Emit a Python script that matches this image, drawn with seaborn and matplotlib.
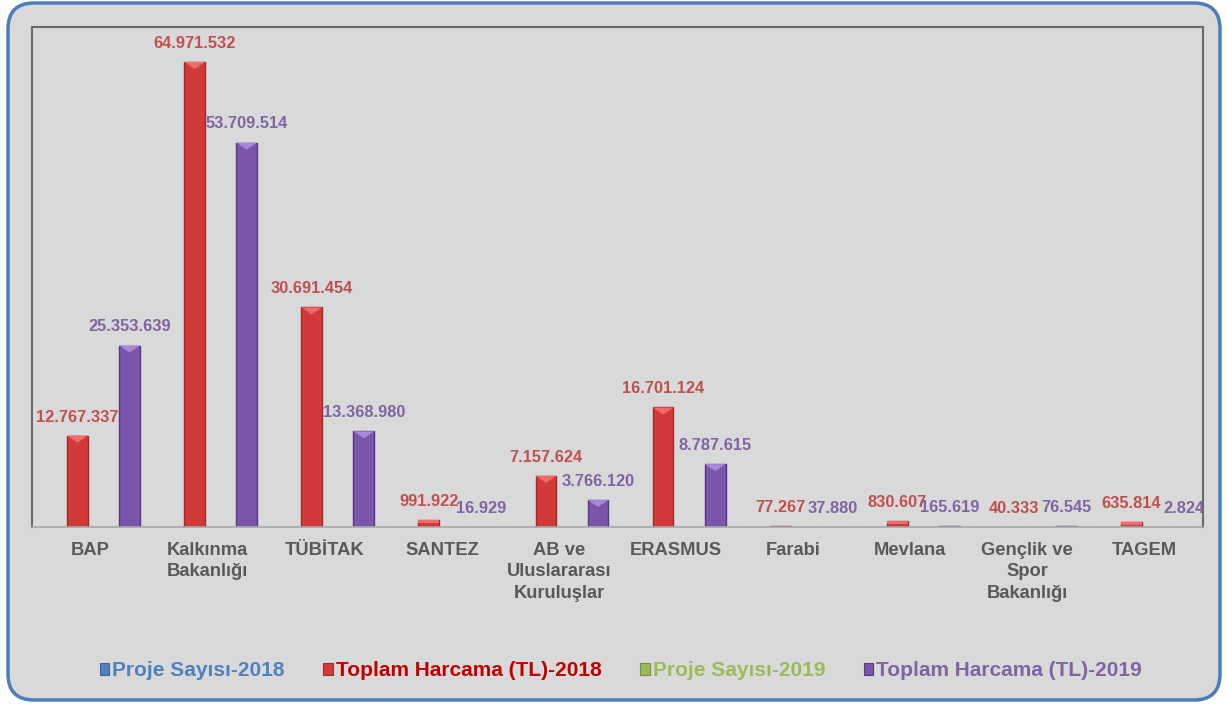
import matplotlib
matplotlib.use("Agg")
import matplotlib.pyplot as plt
import seaborn as sns
import pandas as pd
import numpy as np
from matplotlib.patches import FancyBboxPatch, Patch, Polygon
from matplotlib.transforms import IdentityTransform

categories = ["BAP", "Kalkınma\nBakanlığı", "TÜBİTAK", "SANTEZ", "AB ve\nUluslararası\nKuruluşlar",
              "ERASMUS", "Farabi", "Mevlana", "Gençlik ve\nSpor\nBakanlığı", "TAGEM"]
series_names = ["Proje Sayısı-2018", "Toplam Harcama (TL)-2018", "Proje Sayısı-2019", "Toplam Harcama (TL)-2019"]
# project counts are too small to be visible at this scale (read as ~0)
proje_2018 = [0, 0, 0, 0, 0, 0, 0, 0, 0, 0]
harcama_2018 = [12767337, 64971532, 30691454, 991922, 7157624, 16701124, 77267, 830607, 40333, 635814]
proje_2019 = [0, 0, 0, 0, 0, 0, 0, 0, 0, 0]
harcama_2019 = [25353639, 53709514, 13368980, 16929, 3766120, 8787615, 37880, 165619, 76545, 2824]

bar_colors = ["#4F81BD", "#D23A39", "#9BBB59", "#7A55AB"]
edge_colors = ["#3A6394", "#9E2A2A", "#76903F", "#553A80"]
top_colors = ["#7EA6D8", "#F26B6B", "#C0DA88", "#A987DA"]
text_colors = ["#4F81BD", "#C00000", "#9BBB59", "#8064A2"]
label_colors = {1: "#C0504D", 3: "#8064A2"}

rows = []
for name, vals in zip(series_names, [proje_2018, harcama_2018, proje_2019, harcama_2019]):
    for c, v in zip(categories, vals):
        rows.append({"Kategori": c, "Seri": name, "Değer": v})
df = pd.DataFrame(rows)

sns.set_theme(style="white")
plt.rcParams["font.family"] = ["Liberation Sans", "DejaVu Sans"]
plt.rcParams["font.weight"] = "bold"

fig = plt.figure(figsize=(12.27, 7.04), dpi=100, facecolor="white")
bg = FancyBboxPatch((8, 4), 1212, 697, boxstyle="round,pad=0,rounding_size=26",
                    transform=IdentityTransform(), facecolor="#D9D9D9", edgecolor="#4A7EBB",
                    linewidth=2.5, zorder=-10)
fig.patches.append(bg)

ax = fig.add_axes([32/1227, 1-527/704, (1203-32)/1227, 500/704])
ax.set_facecolor("none")

sns.barplot(data=df, x="Kategori", y="Değer", hue="Seri", hue_order=series_names,
            palette=bar_colors, saturation=1, width=0.89, gap=0.2, ax=ax, legend=False,
            linewidth=0, errorbar=None)

ymax = 69.86e6
ax.set_ylim(0, ymax)
ax.set_xlim(-0.5, len(categories)-0.5)
px_per_unit = 500 / ymax
tri_h = 7 / px_per_unit

def fmt(v):
    return f"{v:,}".replace(",", ".")

for idx, cont in enumerate(ax.containers):
    for bar in cont:
        bar.set_edgecolor(edge_colors[idx])
        bar.set_linewidth(1.0)
        h = bar.get_height()
        x0 = bar.get_x()
        w = bar.get_width()
        if h * px_per_unit > 9:
            ax.add_patch(Polygon([[x0, h], [x0 + w, h], [x0 + w/2, h - tri_h]], closed=True,
                                 facecolor=top_colors[idx], edgecolor="none", zorder=3))
        elif h * px_per_unit > 2:
            ax.add_patch(Polygon([[x0, h], [x0 + w, h], [x0 + w, h * 0.5], [x0, h * 0.5]], closed=True,
                                 facecolor=top_colors[idx], edgecolor="none", zorder=3))
    if idx not in label_colors:
        continue
    vals = harcama_2018 if idx == 1 else harcama_2019
    for bar, v in zip(cont, vals):
        x = bar.get_x() + bar.get_width()/2
        ax.annotate(fmt(v), (x, bar.get_height()), xytext=(0, 8), textcoords="offset points",
                    ha="center", va="bottom", fontsize=11.8, fontweight="bold",
                    color=label_colors[idx], annotation_clip=False, zorder=5)

ax.set_xlabel("")
ax.set_ylabel("")
ax.set_yticks([])
ax.tick_params(axis="x", length=0, pad=11)
for lab in ax.get_xticklabels():
    lab.set_fontsize(13.2)
    lab.set_fontweight("bold")
    lab.set_color("#595959")
    lab.set_verticalalignment("top")
    lab.set_linespacing(1.32)

for s in ["left", "top", "right"]:
    ax.spines[s].set_color("#6A6A6A")
    ax.spines[s].set_linewidth(1.5)
ax.spines["bottom"].set_color("#A8A8A8")
ax.spines["bottom"].set_linewidth(1.2)
ax.spines["bottom"].set_linestyle((0, (1, 1)))

handles = [Patch(facecolor=c, edgecolor=e, linewidth=0.8) for c, e in zip(bar_colors, edge_colors)]
leg = fig.legend(handles, series_names, loc="center", bbox_to_anchor=(621/1227, 1-671/704),
                 ncol=4, frameon=False, handlelength=0.45, handleheight=0.45,
                 handletextpad=0.15, columnspacing=1.85,
                 prop={"family": "Liberation Sans", "weight": "bold", "size": 15})
for t, c in zip(leg.get_texts(), text_colors):
    t.set_color(c)

fig.savefig("out.png", dpi=100, facecolor="white")
